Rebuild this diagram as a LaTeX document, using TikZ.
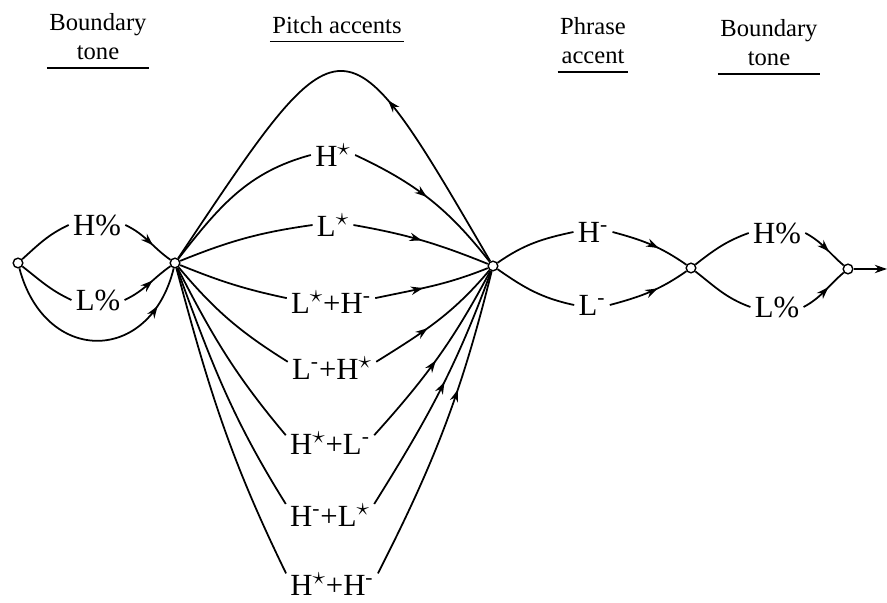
\documentclass[tikz,border=0pt]{standalone}
\usepackage{fontspec}
\setmainfont{Liberation Serif}
\usetikzlibrary{arrows.meta,decorations.markings}
\newcommand{\st}{\textsuperscript{\scalebox{1.2}{$\star$}}}
\newcommand{\mi}{\textsuperscript{-}}
\begin{document}
\begin{tikzpicture}[line width=1pt,
  state/.style={circle,draw,fill=white,inner sep=0pt,minimum size=5.5pt,line width=0.8pt},
  tone/.style={font=\fontsize{17.5}{20}\selectfont,inner sep=2pt},
  head/.style={font=\fontsize{14}{16.5}\selectfont,align=center,inner sep=1pt},
  midarrow/.style={postaction={decorate},decoration={markings,mark=at position #1 with {\arrow{Stealth[length=7pt,width=4.8pt]}}}}]
\useasboundingbox (0,0) rectangle (17.74,12.06);
\node[head] (bt) at (1.96,11.32) {Boundary\\tone};
\node[head] (pa) at (6.74,11.56) {Pitch accents};
\node[head] (ph) at (11.86,11.24) {Phrase\\accent};
\node[head] (et) at (15.38,11.2) {Boundary\\tone};
\draw ([yshift=-3pt]bt.south west) -- ([yshift=-3pt]bt.south east);
\draw ([yshift=-3pt]pa.south west) -- ([yshift=-3pt]pa.south east);
\draw ([yshift=-3pt]ph.south west) -- ([yshift=-3pt]ph.south east);
\draw ([yshift=-3pt]et.south west) -- ([yshift=-3pt]et.south east);
\node[state] (a) at (0.36,6.80) {};
\node[state] (b) at (3.50,6.80) {};
\node[state] (c) at (9.86,6.74) {};
\node[state] (d) at (13.82,6.70) {};
\node[state] (e) at (16.96,6.68) {};
\coordinate (out) at (17.74,6.68);
\node[tone] (bh) at (1.94,7.56) {H\%};
\node[tone] (bl) at (1.96,6.06) {L\%};
\node[tone] (hs) at (6.66,8.96) {H\st};
\node[tone] (ls) at (6.66,7.56) {L\st};
\node[tone] (lshm) at (6.62,6.02) {L\st+H\mi};
\node[tone] (lmhs) at (6.64,4.70) {L\mi+H\st};
\node[tone] (hslm) at (6.60,3.20) {H\st+L\mi};
\node[tone] (hmls) at (6.60,1.76) {H\mi+L\st};
\node[tone] (hshm) at (6.64,0.38) {H\st+H\mi};
\node[tone] (hm) at (11.86,7.42) {H\mi};
\node[tone] (lm) at (11.84,5.96) {L\mi};
\node[tone] (eh) at (15.54,7.40) {H\%};
\node[tone] (el) at (15.54,5.92) {L\%};
\draw (a) to[out=42,in=205] (bh.west);
\draw[midarrow=0.6] (bh.east) to[out=-25,in=145] (b);
\draw (a) to[out=-38,in=155] (bl.west);
\draw[midarrow=0.6] (bl.east) to[out=25,in=-145] (b);
\draw[midarrow=0.82] (a) .. controls (0.9,4.76) and (3.0,4.76) .. (b);
\draw[midarrow=0.38] (c) .. controls (6.85,11.9) and (6.9,11.9) .. (b);
\draw (b) to[out=52,in=195] (hs.west);
\draw[midarrow=0.48] (hs.east) to[out=-25,in=128] (c);
\draw (b) to[out=22,in=188] (ls.west);
\draw[midarrow=0.5] (ls.east) to[out=-10,in=158] (c);
\draw (b) to[out=-22,in=168] (lshm.175);
\draw[midarrow=0.42] (lshm.5) to[out=12,in=-158] (c);
\draw (b) to[out=-50,in=148] (lmhs.172);
\draw[midarrow=0.42] (lmhs.8) to[out=32,in=-130] (c);
\draw (b) to[out=-63,in=130] (hslm.170);
\draw[midarrow=0.48] (hslm.10) to[out=48,in=-118] (c);
\draw (b) to[out=-70,in=122] (hmls.166);
\draw[midarrow=0.54] (hmls.14) to[out=58,in=-110] (c);
\draw (b) to[out=-75,in=116] (hshm.167);
\draw[midarrow=0.62] (hshm.13) to[out=63,in=-104] (c);
\draw (c) to[out=35,in=192] (hm.west);
\draw[midarrow=0.6] (hm.east) to[out=-15,in=145] (d);
\draw (c) to[out=-35,in=168] (lm.west);
\draw[midarrow=0.6] (lm.east) to[out=15,in=-145] (d);
\draw (d) to[out=38,in=200] (eh.west);
\draw[midarrow=0.6] (eh.east) to[out=-28,in=140] (e);
\draw (d) to[out=-38,in=160] (el.west);
\draw[midarrow=0.6] (el.east) to[out=28,in=-140] (e);
\draw[-{Stealth[length=7pt,width=4.8pt]}] (e) -- (out);
\end{tikzpicture}
\end{document}
